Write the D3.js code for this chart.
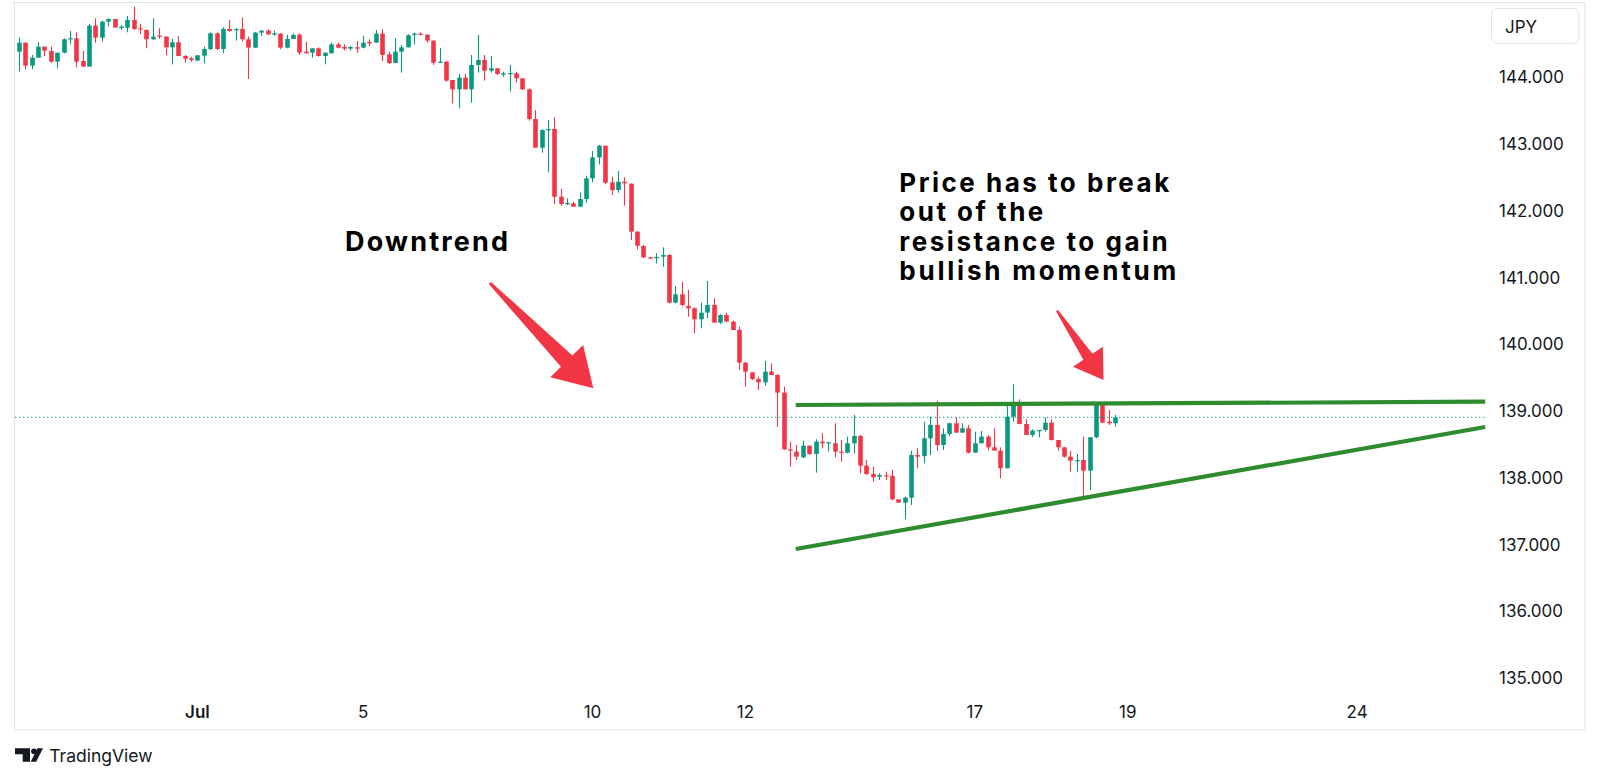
<!DOCTYPE html>
<html><head><meta charset="utf-8">
<script src="https://cdn.jsdelivr.net/npm/d3@7"></script>
<style>
html,body{margin:0;padding:0;background:#fff;}
svg{display:block;}
</style></head>
<body>
<svg id="chart" width="1600" height="782"></svg>
<script>
// ---- data (USD/JPY, 2h candles) ----
const opens = [144.375,144.510,144.166,144.285,144.450,144.385,144.225,144.360,144.560,144.575,
144.235,144.151,144.765,144.585,144.825,144.864,144.730,144.735,144.850,144.725,
144.700,144.560,144.615,144.600,144.440,144.515,144.310,144.275,144.240,144.315,
144.415,144.650,144.415,144.715,144.695,144.715,144.560,144.435,144.660,144.690,
144.630,144.645,144.435,144.565,144.630,144.375,144.360,144.425,144.310,144.350,
144.485,144.445,144.420,144.440,144.435,144.520,144.510,144.645,144.335,144.205,
144.375,144.440,144.625,144.645,144.630,144.540,144.210,144.225,143.951,143.811,
143.986,143.811,144.175,144.250,144.090,144.126,144.030,144.045,144.050,143.975,
143.811,143.366,142.937,143.197,143.217,142.203,142.093,142.103,142.053,142.168,
142.478,142.792,142.967,142.418,142.303,142.428,142.398,141.679,141.465,141.295,
141.285,141.305,141.330,140.616,140.741,140.567,140.532,140.367,140.467,140.582,
140.317,140.432,140.332,140.207,139.718,139.573,139.473,139.423,139.583,139.533,
139.269,138.420,138.385,138.300,138.475,138.350,138.535,138.510,138.510,138.385,
138.370,138.510,138.620,138.175,138.051,138.011,138.031,138.021,137.671,137.621,
137.696,138.335,138.320,138.585,138.785,138.485,138.650,138.810,138.670,138.735,
138.370,138.510,138.610,138.450,138.400,138.136,138.909,139.094,138.799,138.635,
138.695,138.710,138.820,138.560,138.450,138.310,138.250,138.260,138.101,138.600,
139.109,138.835,138.810];
const highs = [144.590,144.510,144.325,144.520,144.450,144.450,144.360,144.575,144.685,144.665,
144.385,144.790,144.874,144.839,144.874,144.864,144.775,144.909,145.049,144.790,
144.710,144.874,144.725,144.610,144.565,144.610,144.325,144.300,144.320,144.450,
144.665,144.665,144.740,144.850,144.725,144.889,144.600,144.670,144.700,144.710,
144.690,144.650,144.625,144.650,144.650,144.525,144.425,144.440,144.360,144.510,
144.510,144.485,144.460,144.535,144.610,144.560,144.700,144.710,144.375,144.575,
144.475,144.635,144.660,144.665,144.630,144.550,144.430,144.240,143.951,144.041,
144.041,144.325,144.625,144.325,144.310,144.126,144.075,144.175,144.075,143.975,
143.826,143.501,143.212,143.351,143.391,142.318,142.178,142.128,142.268,142.518,
142.887,142.977,142.967,142.503,142.588,142.493,142.403,141.689,141.480,141.305,
141.355,141.445,141.345,140.866,140.931,140.806,140.547,140.617,140.941,140.682,
140.442,140.467,140.347,140.257,139.733,139.573,139.508,139.743,139.708,139.548,
139.359,138.535,138.485,138.550,138.475,138.570,138.660,138.535,138.810,138.560,
138.610,138.934,138.635,138.260,138.160,138.061,138.086,138.111,137.671,137.711,
138.400,138.435,138.834,138.909,139.144,138.735,138.820,138.899,138.810,138.785,
138.685,138.695,138.635,138.735,138.450,139.084,139.394,139.169,138.869,138.720,
138.710,138.899,138.869,138.560,138.450,138.395,138.350,138.610,138.600,139.109,
139.119,139.009,138.934];
const lows = [144.076,144.111,144.111,144.285,144.310,144.210,144.126,144.350,144.485,144.141,
144.151,144.151,144.510,144.525,144.750,144.735,144.700,144.665,144.700,144.635,
144.425,144.550,144.565,144.325,144.185,144.310,144.215,144.225,144.240,144.200,
144.400,144.400,144.350,144.675,144.540,144.525,143.966,144.435,144.610,144.625,
144.615,144.410,144.425,144.565,144.325,144.350,144.285,144.300,144.185,144.350,
144.425,144.390,144.390,144.360,144.425,144.460,144.510,144.235,144.190,144.205,
144.061,144.440,144.485,144.620,144.510,144.175,144.210,143.926,143.601,143.526,
143.811,143.611,144.061,143.941,144.061,144.026,144.000,143.776,143.910,143.801,
143.341,142.937,142.862,142.568,142.093,142.068,142.078,142.053,142.053,142.113,
142.418,142.687,142.388,142.228,142.263,142.068,141.554,141.414,141.280,141.265,
141.205,141.155,140.606,140.606,140.557,140.407,140.157,140.232,140.382,140.317,
140.297,140.332,140.207,139.608,139.359,139.458,139.309,139.373,139.533,138.760,
138.410,138.160,138.260,138.285,138.335,138.071,138.435,138.385,138.300,138.235,
138.360,138.360,138.061,138.036,137.936,137.961,137.961,137.661,137.621,137.372,
137.586,138.136,138.211,138.335,138.400,138.410,138.620,138.670,138.670,138.360,
138.370,138.510,138.400,138.400,137.986,138.136,138.834,138.795,138.635,138.600,
138.600,138.685,138.550,138.400,138.295,138.086,138.086,137.686,137.811,138.585,
138.810,138.785,138.760];
const closes = [144.510,144.166,144.285,144.450,144.390,144.225,144.360,144.560,144.575,144.225,
144.151,144.765,144.585,144.825,144.864,144.735,144.750,144.850,144.715,144.710,
144.560,144.600,144.600,144.440,144.515,144.310,144.270,144.250,144.320,144.415,
144.650,144.415,144.715,144.685,144.715,144.560,144.435,144.660,144.690,144.635,
144.650,144.435,144.565,144.625,144.360,144.350,144.425,144.310,144.360,144.485,
144.435,144.420,144.445,144.420,144.510,144.500,144.645,144.325,144.205,144.375,
144.440,144.620,144.645,144.630,144.540,144.210,144.225,143.941,143.811,143.986,
143.811,144.175,144.250,144.090,144.126,144.041,144.050,144.055,143.975,143.811,
143.366,142.937,143.202,143.217,142.203,142.093,142.108,142.053,142.168,142.478,
142.792,142.967,142.413,142.303,142.428,142.403,141.679,141.469,141.295,141.280,
141.300,141.330,140.616,140.741,140.582,140.532,140.367,140.467,140.582,140.317,
140.432,140.332,140.207,139.718,139.583,139.473,139.423,139.583,139.533,139.269,
138.420,138.405,138.310,138.475,138.350,138.535,138.510,138.525,138.385,138.370,
138.510,138.620,138.175,138.051,138.001,138.036,138.016,137.671,137.621,137.696,
138.335,138.310,138.585,138.785,138.485,138.650,138.810,138.670,138.735,138.370,
138.510,138.610,138.450,138.400,138.136,138.909,139.094,138.799,138.635,138.700,
138.710,138.820,138.560,138.450,138.310,138.250,138.260,138.101,138.600,139.094,
138.820,138.810,138.899];

const priceTicks = [135,136,137,138,139,140,141,142,143,144];
const timeTickIndex = [28,54,90,114,150,174,210];
const timeTickLabels = ["Jul","5","10","12","17","19","24"];
const timeTickBold = [true,false,false,false,false,false,false];

// trend lines drawn on the chart: [candle index, price]
const resistanceLine = [[121.9,139.084],[230.1,139.133]];
const supportLine = [[121.9,136.928],[230.1,138.754]];

// annotations: [candle index, price]
const arrowDowntrend = {tail:[73.9,140.911], tip:[90.13,139.334]};
const arrowBreakout = {tail:[162.9,140.496], tip:[170.2,139.458]};
const textDowntrend = {at:[51.16,141.39], lines:["Downtrend"]};
const textBreakout = {at:[138.15,142.278], lines:["Price has to break","out of the","resistance to gain","bullish momentum"]};

const currency = "JPY";
const brand = "TradingView";

// ---- drawing ----
const svg = d3.select("#chart");
const UP = "#089981", DOWN = "#f23645";
const x = d3.scaleLinear().domain([0,172]).range([19,1115]);
const y = d3.scaleLinear().domain([135,144]).range([677.7,76.7]);

// frame
svg.append("rect").attr("x",14.5).attr("y",2.5).attr("width",1570.5).attr("height",727.5)
  .attr("fill","#fff").attr("stroke","#e0e3eb").attr("stroke-width",1);

const plot = svg.append("g");
const candles = d3.range(opens.length).map(i=>({i,o:opens[i],h:highs[i],l:lows[i],c:closes[i]}));
const bw = 4.6;
const cg = plot.selectAll("g.c").data(candles).join("g").attr("class","c");
cg.append("line")
  .attr("x1",d=>Math.round(x(d.i))+0.5).attr("x2",d=>Math.round(x(d.i))+0.5)
  .attr("y1",d=>y(d.h)).attr("y2",d=>y(d.l))
  .attr("stroke",d=>d.c>=d.o?UP:DOWN).attr("stroke-width",1.1);
cg.append("rect")
  .attr("x",d=>Math.round(x(d.i))+0.5-bw/2).attr("width",bw)
  .attr("y",d=>y(Math.max(d.o,d.c)))
  .attr("height",d=>Math.max(1.2,Math.abs(y(d.o)-y(d.c))))
  .attr("fill",d=>d.c>=d.o?UP:DOWN);

// last price dotted line
const last = closes[closes.length-1];
svg.append("line").attr("x1",15).attr("x2",1485).attr("y1",y(last)).attr("y2",y(last))
  .attr("stroke",UP).attr("stroke-width",1).attr("stroke-dasharray","1.3,2.7");

// trend lines
const lineGen = d3.line().x(d=>x(d[0])).y(d=>y(d[1]));
[resistanceLine,supportLine].forEach(l=>{
  svg.append("path").attr("d",lineGen(l)).attr("fill","none")
    .attr("stroke","#2e8b2e").attr("stroke-width",4.2);
});

// arrows
function arrowPts(a, headLen, headHalf, shaftHalf, tailHalf){
  const t=[x(a.tail[0]),y(a.tail[1])], p=[x(a.tip[0]),y(a.tip[1])];
  const dx=p[0]-t[0], dy=p[1]-t[1], L=Math.hypot(dx,dy), ux=dx/L, uy=dy/L, nx=-uy, ny=ux;
  const b=[p[0]-ux*headLen,p[1]-uy*headLen];
  return [[t[0]+nx*tailHalf,t[1]+ny*tailHalf],[b[0]+nx*shaftHalf,b[1]+ny*shaftHalf],
    [b[0]+nx*headHalf,b[1]+ny*headHalf],p,[b[0]-nx*headHalf,b[1]-ny*headHalf],
    [b[0]-nx*shaftHalf,b[1]-ny*shaftHalf],[t[0]-nx*tailHalf,t[1]-ny*tailHalf]];
}
svg.append("polygon").attr("points",arrowPts(arrowDowntrend,38,23,8,1.5).map(p=>p.join(",")).join(" "))
  .attr("fill","#f23645");
svg.append("polygon").attr("points",arrowPts(arrowBreakout,28,18,5.5,1.2).map(p=>p.join(",")).join(" "))
  .attr("fill","#f23645");

// annotation texts (line widths matched to the picture)
function addText(t, size, lh, widths){
  const tx = svg.append("text").attr("font-family","Inter, 'Open Sans', sans-serif")
    .attr("font-weight",700).attr("font-size",size).attr("fill","#000");
  t.lines.forEach((s,k)=>tx.append("tspan").attr("x",x(t.at[0])).attr("y",y(t.at[1])+k*lh)
    .attr("textLength",widths[k]).attr("lengthAdjust","spacing").text(s));
}
addText(textDowntrend,27,29.5,[163]);
addText(textBreakout,26,29.5,[270,144,268.5,277]);

// price axis labels
svg.append("g").selectAll("text").data(priceTicks).join("text")
  .attr("x",1499).attr("y",d=>y(d)+6.5)
  .attr("font-family","Inter, sans-serif").attr("font-size",17).attr("fill","#131722")
  .text(d=>d3.format(".3f")(d));

// time axis labels
svg.append("g").selectAll("text").data(timeTickIndex).join("text")
  .attr("x",d=>x(d)).attr("y",717.5).attr("text-anchor","middle")
  .attr("font-family","Inter, sans-serif").attr("font-size",17).attr("fill","#131722")
  .attr("font-weight",(d,k)=>timeTickBold[k]?600:400)
  .text((d,k)=>timeTickLabels[k]);

// currency box
svg.append("rect").attr("x",1491.5).attr("y",8.5).attr("width",87.5).attr("height",35).attr("rx",6)
  .attr("fill","#fff").attr("stroke","#e0e3eb");
svg.append("text").attr("x",1505).attr("y",32.5).attr("font-family","Inter, sans-serif")
  .attr("font-size",17).attr("fill","#131722").text(currency);

// brand logo
const lg = svg.append("g").attr("fill","#131722");
lg.append("path").attr("d","M15,748.3 H30 V761.7 H22.7 V754.2 H15 Z");
lg.append("circle").attr("cx",34).attr("cy",751.3).attr("r",2.9);
lg.append("path").attr("d","M37.5,748.3 H43 L36.2,761.7 H30.7 Z");
svg.append("text").attr("x",49.3).attr("y",761.7).attr("font-family","Inter, sans-serif")
  .attr("font-size",17.5).attr("fill","#131722").text(brand);
</script>
</body></html>
